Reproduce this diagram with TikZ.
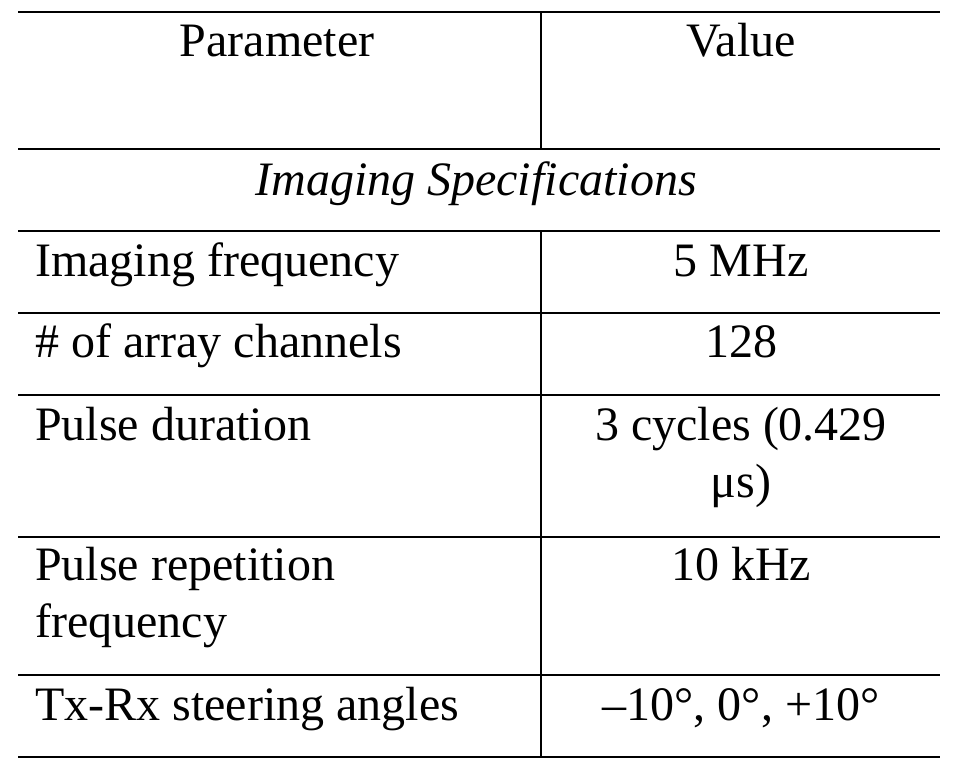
\documentclass[tikz,border=0pt]{standalone}
\usepackage{fontspec}
\setmainfont{Liberation Serif}
\begin{document}
\begin{tikzpicture}[x=1pt,y=-1pt,
  rule/.style={line width=2pt},
  txt/.style={font=\fontsize{48}{54}\selectfont,inner sep=0pt}]
\useasboundingbox (0,0) rectangle (956,767);
\foreach \y/\n in {12/a,149/b,231/c,313/d,395/e,537/f,675/g,757/h}{
  \coordinate (l\n) at (18,\y); \coordinate (r\n) at (940,\y);
  \draw[rule] (l\n) -- (r\n);}
\coordinate (v1) at (541,12); \coordinate (v2) at (541,149);
\coordinate (v3) at (541,231); \coordinate (v4) at (541,757);
\draw[rule] (v1) -- (v2);
\draw[rule] (v3) -- (v4);
\node[txt,anchor=base] (h1) at (277,57) {Parameter};
\node[txt,anchor=base] (h2) at (741,57) {Value};
\node[txt,anchor=base,font=\fontsize{48}{54}\selectfont\itshape] (sec) at (476,196) {Imaging Specifications};
\node[txt,anchor=base west] (p1) at (35,277) {Imaging frequency};
\node[txt,anchor=base] (v1t) at (741,277) {5 MHz};
\node[txt,anchor=base west] (p2) at (35,358) {\# of array channels};
\node[txt,anchor=base] (v2t) at (741,358) {128};
\node[txt,anchor=base west] (p3) at (35,440) {Pulse duration};
\node[txt,anchor=base] (v3t) at (741,440) {3 cycles (0.429};
\node[txt,anchor=base] (v3u) at (741,497) {μs)};
\node[txt,anchor=base west] (p4) at (35,580) {Pulse repetition};
\node[txt,anchor=base west] (p4b) at (35,637) {frequency};
\node[txt,anchor=base] (v4t) at (741,580) {10 kHz};
\node[txt,anchor=base west] (p5) at (35,720) {Tx-Rx steering angles};
\node[txt,anchor=base] (v5t) at (741,720) {–10°, 0°, +10°};
\end{tikzpicture}
\end{document}
